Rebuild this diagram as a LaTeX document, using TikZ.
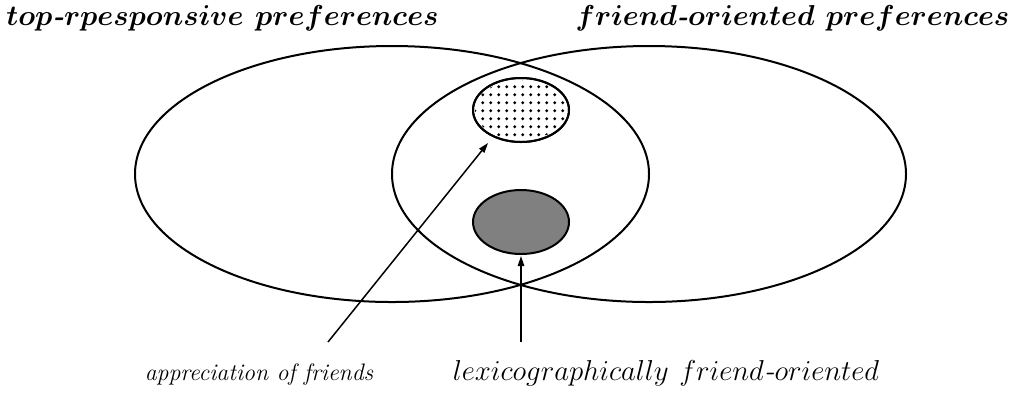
\documentclass[tikz,border=0pt]{standalone}
\usetikzlibrary{shapes.geometric,arrows.meta}
\begin{document}
\begin{tikzpicture}[x=0.5pt,y=-0.5pt,
  bigset/.style={draw,line width=1pt,ellipse,inner sep=0pt,minimum width=257pt,minimum height=128pt},
  smallset/.style={draw,line width=1pt,ellipse,inner sep=0pt,minimum width=48pt,minimum height=32pt},
  title/.style={font=\fontsize{14}{16}\selectfont\bfseries\itshape\boldmath,inner sep=0pt,anchor=base},
  label/.style={font=\fontsize{15}{17}\selectfont\itshape,inner sep=0pt,anchor=base},
  pointer/.style={line width=0.75pt,-{Triangle[length=5pt,width=3.2pt]}}]
\useasboundingbox (0,0) rectangle (1016,393);
\node[bigset] (L) at (392,174) {};
\node[bigset] (R) at (649,174) {};
\node[smallset] (D) at (521,110) {};
\begin{scope}
  \clip (521,110) ellipse [x radius=46,y radius=30];
  \foreach \i in {0,...,12} {
    \foreach \j in {-1,...,8} {
      \fill (474.7+8*\i,78.7+8*\j) circle [radius=1.6];
    }
  }
\end{scope}
\node[smallset] at (521,110) {};
\node[smallset,fill=black!50] (G) at (521,222) {};
\node[title,anchor=base west] (T1) at (6,25) {$top$-$rpesponsive$ $preferences$};
\node[title,anchor=base east,font=\fontsize{13.6}{16}\selectfont\bfseries\itshape\boldmath] (T2) at (1010,25) {$friend$-$oriented$ $preferences$};
\node[label,font=\fontsize{11.9}{14}\selectfont\itshape] (A) at (259,380) {appreciation of friends};
\node[label] (B) at (666,380) {$lexicographically$ $friend$-$oriented$};
\coordinate (a1s) at (328,342);
\coordinate (a1e) at (488,143);
\coordinate (a2s) at (521,342);
\coordinate (a2e) at (521,256);
\draw[pointer] (a1s) -- (a1e);
\draw[pointer] (a2s) -- (a2e);
\end{tikzpicture}
\end{document}
